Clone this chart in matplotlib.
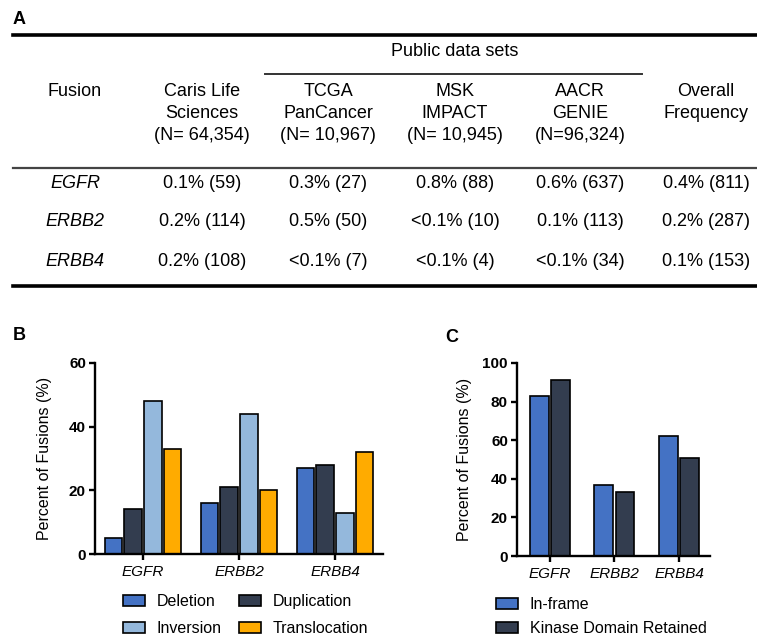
import matplotlib
import matplotlib.pyplot as plt
import numpy as np

plt.rcParams['font.family'] = ['Liberation Sans', 'DejaVu Sans']

W, H = 757, 636

# table (panel A)
fusions = ['EGFR', 'ERBB2', 'ERBB4']
headers = ['Fusion', 'Caris Life\nSciences\n(N= 64,354)', 'TCGA\nPanCancer\n(N= 10,967)',
           'MSK\nIMPACT\n(N= 10,945)', 'AACR\nGENIE\n(N=96,324)', 'Overall\nFrequency']
caris = ['0.1% (59)', '0.2% (114)', '0.2% (108)']
tcga = ['0.3% (27)', '0.5% (50)', '<0.1% (7)']
msk = ['0.8% (88)', '<0.1% (10)', '<0.1% (4)']
aacr = ['0.6% (637)', '0.1% (113)', '<0.1% (34)']
overall = ['0.4% (811)', '0.2% (287)', '0.1% (153)']

# panel B
fusion_types = ['Deletion', 'Duplication', 'Inversion', 'Translocation']
deletion = [5, 16, 27]
duplication = [14, 21, 28]
inversion = [48, 44, 13]
translocation = [33, 20, 32]

# panel C
c_labels = ['In-frame', 'Kinase Domain Retained']
in_frame = [83, 37, 62]
kinase_retained = [91, 33, 51]

colors_b = ['#4472c4', '#333d4f', '#94b8dc', '#ffab00']
colors_c = ['#4472c4', '#333d4f']

fig = plt.figure(figsize=(W / 100, H / 100), dpi=100)


def fx(x):
    return x / W


def fy(y):
    return 1 - y / H


def hline(x0, x1, y, lw, color='black'):
    fig.add_artist(plt.Line2D([fx(x0), fx(x1)], [fy(y), fy(y)], lw=lw, color=color,
                              transform=fig.transFigure))


# ---- A: table ----
fig.text(fx(19), fy(20), 'A', fontsize=13, fontweight='bold', ha='center', va='center')
hline(13, 757, 35, 2.6)
hline(265, 642, 74, 1.4, '#333333')
hline(13, 757, 168, 1.6, '#444444')
hline(13, 757, 286, 2.6)

col_x = [75, 202, 328, 455, 580, 706]
fsize = 13
fig.text(fx(455), fy(52), 'Public data sets', fontsize=fsize, ha='center', va='center')
fig.text(fx(col_x[0]), fy(92), headers[0], fontsize=fsize, ha='center', va='center')
for x, h in zip(col_x[1:], headers[1:]):
    for k, line in enumerate(h.split('\n')):
        fig.text(fx(x), fy(92 + 22 * k), line, fontsize=fsize, ha='center', va='center')

row_y = [183, 222, 261]
for i, g in enumerate(fusions):
    fig.text(fx(col_x[0]), fy(row_y[i]), g, fontsize=fsize, style='italic', ha='center', va='center')
    for x, col in zip(col_x[1:], [caris, tcga, msk, aacr, overall]):
        fig.text(fx(x), fy(row_y[i]), col[i], fontsize=fsize, ha='center', va='center')


def style_axes(ax, ymax, step):
    ax.spines['top'].set_visible(False)
    ax.spines['right'].set_visible(False)
    for s in ['left', 'bottom']:
        ax.spines[s].set_linewidth(1.7)
    ax.set_ylim(0, ymax)
    ax.set_yticks(np.arange(0, ymax + 1, step))
    ax.tick_params(axis='y', length=4.5, width=1.7, pad=2, labelsize=11)
    ax.tick_params(axis='x', length=4.5, width=1.7, pad=3.5, labelsize=11)
    for t in ax.get_yticklabels():
        t.set_fontweight('bold')
    for t in ax.get_xticklabels():
        t.set_style('italic')
    ax.set_ylabel('Percent of Fusions (%)', fontsize=11.5)


# ---- B ----
axb = fig.add_axes([fx(95), fy(554), fx(383) - fx(95), fy(363) - fy(554)])
x = np.arange(len(fusions))
step = 0.208
bars_b = []
for k, (vals, c, lab) in enumerate(zip([deletion, duplication, inversion, translocation], colors_b, fusion_types)):
    bars_b.append(axb.bar(x + (k - 1.5) * step, vals, width=0.178, color=c, edgecolor='black',
                          linewidth=1.2, label=lab))
axb.set_xlim(-0.5, 2.5)
axb.set_xticks(x)
axb.set_xticklabels(fusions)
style_axes(axb, 60, 20)
axb.yaxis.set_label_coords((52 - 95) / (383 - 95), 0.5)
fig.text(fx(19), fy(336), 'B', fontsize=13, fontweight='bold', ha='center', va='center')
order = [0, 2, 1, 3]
axb.legend([bars_b[i] for i in order], [fusion_types[i] for i in order],
           loc='upper left', bbox_to_anchor=(fx(123), fy(594)), bbox_transform=fig.transFigure,
           ncol=2, frameon=False, fontsize=11.5, borderpad=0, borderaxespad=0, handlelength=1.35,
           handleheight=0.65, handletextpad=0.75, columnspacing=1.1, labelspacing=0.75)

# ---- C ----
axc = fig.add_axes([fx(517), fy(556), fx(710) - fx(517), fy(363) - fy(556)])
for k, (vals, c, lab) in enumerate(zip([in_frame, kinase_retained], colors_c, c_labels)):
    axc.bar(x + (k - 0.5) * 0.33, vals, width=0.29, color=c, edgecolor='black', linewidth=1.2, label=lab)
axc.set_xlim(-0.51, 2.48)
axc.set_xticks(x)
axc.set_xticklabels(fusions)
style_axes(axc, 100, 20)
axc.yaxis.set_label_coords((472 - 517) / (710 - 517), 0.5)
fig.text(fx(452), fy(337), 'C', fontsize=13, fontweight='bold', ha='center', va='center')
axc.legend(loc='upper left', bbox_to_anchor=(fx(496), fy(597)), bbox_transform=fig.transFigure,
           ncol=1, frameon=False, fontsize=11.5, borderpad=0, borderaxespad=0, handlelength=1.35,
           handleheight=0.65, handletextpad=0.75, labelspacing=0.55)

fig.savefig('out.png', dpi=100)
